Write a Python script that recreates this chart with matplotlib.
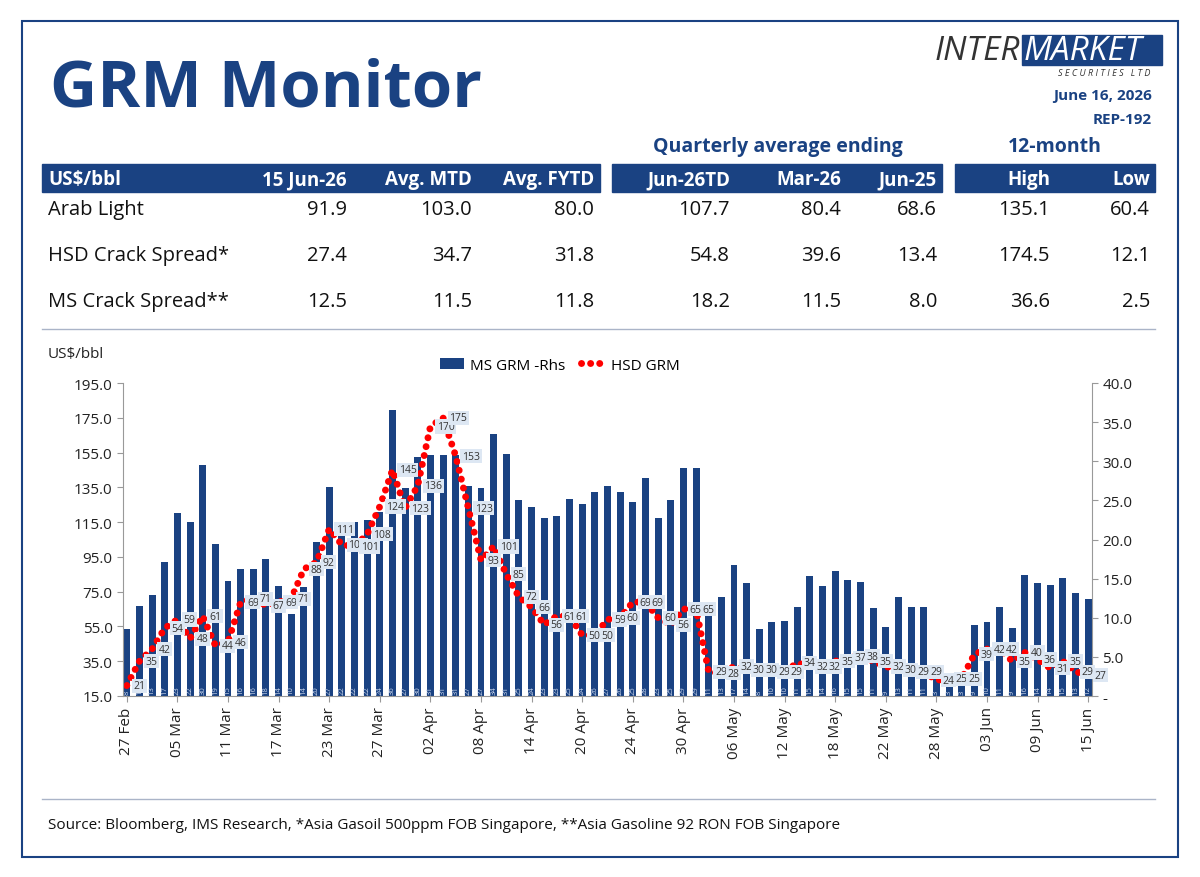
import matplotlib
matplotlib.use("Agg")
import matplotlib.pyplot as plt
from matplotlib.patches import Rectangle
import pandas as pd

plt.rcParams['font.family'] = ['Open Sans', 'DejaVu Sans']
NAVY = "#1a4282"

dates = pd.bdate_range("2026-02-27", "2026-06-15")
ms_grm = [8.5, 11.5, 12.9, 17.1, 23.4, 22.3, 29.5, 19.4, 14.7, 16.2, 16.2, 17.5, 14.0, 10.5,
          13.9, 19.7, 26.7, 21.5, 22.2, 22.5, 23.5, 36.5, 26.6, 30.5, 30.8, 30.8, 30.8, 26.8,
          26.6, 33.5, 30.9, 25.0, 24.1, 22.8, 23.0, 25.2, 24.5, 26.1, 26.9, 26.1, 24.8, 27.9,
          22.8, 25.1, 29.1, 29.1, 10.7, 12.7, 16.8, 14.4, 8.5, 9.5, 9.6, 11.4, 15.3, 14.1,
          16.0, 14.8, 14.6, 11.3, 8.8, 12.6, 11.4, 11.4, 2.6, 2.9, 2.9, 9.1, 9.5, 11.4, 8.7,
          15.5, 14.4, 14.2, 15.1, 13.2, 12.4]
hsd_grm = [21, 35, 42, 54, 59, 48, 61, 44, 46, 69, 71, 67, 69, 71, 88, 92, 111, 102, 101, 108,
           124, 145, 123, 136, 170, 175, 153, 123, 93, 101, 85, 72, 66, 56, 61, 61, 50, 50, 59,
           60, 69, 69, 60, 56, 65, 65, 29, 28, 32, 30, 30, 29, 29, 34, 32, 32, 35, 37, 38, 35,
           32, 30, 29, 29, 24, 25, 25, 39, 42, 42, 35, 40, 36, 31, 35, 29, 27]

table_cols1 = ["15 Jun-26", "Avg. MTD", "Avg. FYTD"]
table_cols2 = ["Jun-26TD", "Mar-26", "Jun-25"]
table_cols3 = ["High", "Low"]
row_names = ["Arab Light", "HSD Crack Spread*", "MS Crack Spread**"]
row_vals = [["91.9", "103.0", "80.0", "107.7", "80.4", "68.6", "135.1", "60.4"],
            ["27.4", "34.7", "31.8", "54.8", "39.6", "13.4", "174.5", "12.1"],
            ["12.5", "11.5", "11.8", "18.2", "11.5", "8.0", "36.6", "2.5"]]

fig = plt.figure(figsize=(12, 8.78), dpi=100)
W, H = 1200, 878
def fx(x): return x / W
def fy(y): return 1 - y / H

fig.patches.append(Rectangle((fx(22), fy(858)), fx(1156), (836) / H, transform=fig.transFigure,
                             fill=False, edgecolor=NAVY, lw=1.5))
fig.text(fx(50), fy(90), "GRM Monitor", fontsize=47, fontweight="bold", color=NAVY, va="center")

# logo
fig.text(fx(935), fy(52), "INTER", fontsize=24, color="#333333", style="italic", va="center")
fig.patches.append(Rectangle((fx(1022), fy(66)), fx(140), 30 / H, transform=fig.transFigure,
                             color=NAVY))
fig.text(fx(1024), fy(52), "MARKET", fontsize=24, color="white", style="italic", va="center")
fig.text(fx(1150), fy(74), "S E C U R I T I E S   L T D", fontsize=6.5, color="#333333",
         ha="right", va="center", style="italic")
fig.text(fx(1152), fy(96), "June 16, 2026", fontsize=11, fontweight="bold", color=NAVY, ha="right", va="center")
fig.text(fx(1152), fy(120), "REP-192", fontsize=11, fontweight="bold", color=NAVY, ha="right", va="center")

# table
for x0, x1 in [(42, 600), (612, 942), (955, 1155)]:
    fig.patches.append(Rectangle((fx(x0), fy(193)), fx(x1 - x0), 28 / H,
                                 transform=fig.transFigure, color=NAVY))
fig.text(fx(778), fy(147), "Quarterly average ending", fontsize=14, fontweight="bold",
         color=NAVY, ha="center", va="center")
fig.text(fx(1055), fy(147), "12-month", fontsize=14, fontweight="bold", color=NAVY,
         ha="center", va="center")
hy = fy(180)
fig.text(fx(48), hy, "US$/bbl", fontsize=13.5, fontweight="bold", color="white", va="center")
col_x = [347, 472, 594, 730, 841, 937, 1050, 1150]
for x, c in zip(col_x, table_cols1 + table_cols2 + table_cols3):
    fig.text(fx(x), hy, c, fontsize=13.5, fontweight="bold", color="white", ha="right", va="center")
for r, (name, vals) in enumerate(zip(row_names, row_vals)):
    yy = fy(210 + r * 46)
    fig.text(fx(48), yy, name, fontsize=14.5, color="#111111", va="center")
    for x, v in zip(col_x, vals):
        fig.text(fx(x), yy, v, fontsize=14.5, color="#111111", ha="right", va="center")
for yline in [330, 800]:
    fig.add_artist(plt.Line2D([fx(42), fx(1155)], [fy(yline), fy(yline)],
                              transform=fig.transFigure, color="#aab4c8", lw=1))
fig.text(fx(48), fy(826), "Source: Bloomberg, IMS Research, *Asia Gasoil 500ppm FOB Singapore, "
         "**Asia Gasoline 92 RON FOB Singapore", fontsize=11, color="#111111", va="center")

# chart
ax = fig.add_axes([fx(123), fy(697), fx(969), 313 / H])
ax2 = ax.twinx()
x = list(range(len(dates)))
bars = ax2.bar(x, ms_grm, width=0.55, color=NAVY, label="MS GRM -Rhs")
for xi, v in zip(x, ms_grm):
    ax2.text(xi, 0.3, f"{v:.0f}", rotation=90, fontsize=5.5, color="#c8d4ea",
             ha="center", va="bottom")
line, = ax.plot(x, hsd_grm, color="red", lw=5, linestyle=(0, (0.01, 1.3)),
                dash_capstyle="round", label="HSD GRM")
for xi, v in zip(x, hsd_grm):
    ax.text(xi + 0.5, v, f"{v}", fontsize=7.5, color="#333333", va="center", ha="left",
            bbox=dict(boxstyle="square,pad=0.15", fc="#dde7f3", ec="none"), clip_on=False)
ax.set_zorder(ax2.get_zorder() + 1)
ax.patch.set_visible(False)

ax.set_xlim(-0.3, len(x) - 0.7)
ax.set_ylim(15, 195)
ax.set_yticks(range(15, 196, 20))
ax.set_yticklabels([f"{v:.1f}" for v in range(15, 196, 20)], fontsize=11)
ax2.set_ylim(0, 40)
ax2.set_yticks(range(0, 41, 5))
ax2.set_yticklabels(["-"] + [f"{v:.1f}" for v in range(5, 41, 5)], fontsize=11)
ax.set_xticks(x[::4])
ax.set_xticklabels([d.strftime("%d %b") for d in dates[::4]], rotation=90, fontsize=11)
for a in (ax, ax2):
    a.spines["top"].set_visible(False)
    for s in ("left", "right", "bottom"):
        a.spines[s].set_color("#999999")
    a.tick_params(colors="#222222", length=4, color="#999999")
ax.spines["right"].set_visible(False)
ax2.spines["left"].set_visible(False)
ax2.spines["bottom"].set_visible(False)

fig.text(fx(48), fy(355), "US$/bbl", fontsize=11, color="#222222", va="center")
fig.legend([bars, line], ["MS GRM -Rhs", "HSD GRM"], loc="center", bbox_to_anchor=(fx(560), fy(366)),
           ncol=2, frameon=False, fontsize=11, handlelength=1.6, columnspacing=1.0, handletextpad=0.4)

fig.savefig("out.png", dpi=100)
